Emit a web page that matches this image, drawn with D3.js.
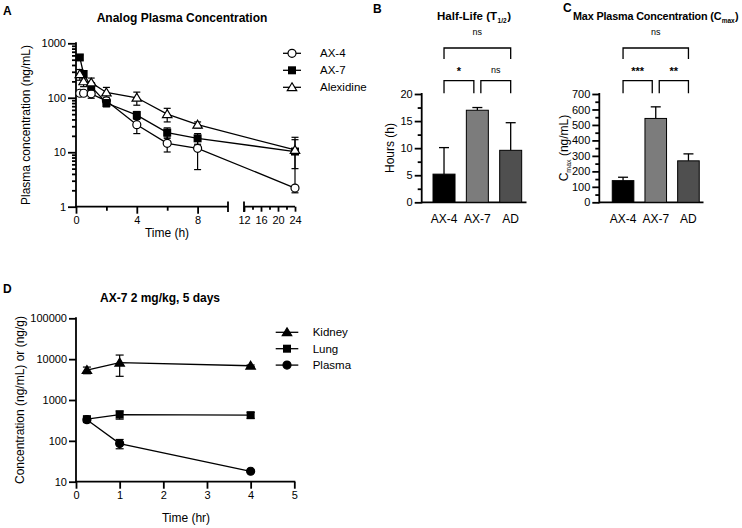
<!DOCTYPE html>
<html><head><meta charset="utf-8">
<script src="https://cdn.jsdelivr.net/npm/d3@7"></script>
<style>
body{margin:0;background:#fff;}
text{font-family:"Liberation Sans",Arial,sans-serif;fill:#000;}
</style></head>
<body><svg id="c" width="742" height="528"></svg>
<script>
// ---------- DATA ----------
// Panel A
const timesA = [0.25, 0.5, 1, 2, 4, 6, 8, 24];
const ax4Mean = [121, 121, 118, 88, 32, 14.6, 11.8, 2.2];
const ax4Sd   = [8, 6, 20, 12, 10, 4.5, 7, 0];
const ax7Mean = [550, 273, 160, 80, 48, 23, 18, 10.3];
const ax7Sd   = [60, 40, 30, 12, 8, 5, 4, 8.5];
const alxMean = [270, 200, 190, 125, 100, 50, 32, 11];
const alxSd   = [60, 40, 40, 30, 27, 14, 4, 6];
const seriesA = ["AX-4", "AX-7", "Alexidine"];
const yTicksA = [1, 10, 100, 1000];
const xTicksA1 = [0, 4, 8];
const xTicksA2 = [12, 16, 20, 24];
// Panel B
const groups = ["AX-4", "AX-7", "AD"];
const halfLife = [5.2, 17.0, 9.6];
const halfLifeSd = [4.9, 0.5, 5.1];
const yTicksB = [0, 5, 10, 15, 20];
const sigB = ["*", "ns", "ns"];
// Panel C
const cmax = [140, 542, 268];
const cmaxSd = [22, 75, 45];
const yTicksC = [0, 100, 200, 300, 400, 500, 600, 700];
const sigC = ["***", "**", "ns"];
// Panel D
const timesD = [0.25, 1, 4];
const kidneyMean = [5400, 8200, 6900];
const kidneySd = [1000, 4400, 300];
const lungMean = [340, 440, 425];
const lungSd = [40, 100, 70];
const plasmaMean = [330, 86, 18];
const plasmaSd = [20, 22, 1];
const seriesD = ["Kidney", "Lung", "Plasma"];
const yTicksD = [10, 100, 1000, 10000, 100000];
const xTicksD = [0, 1, 2, 3, 4, 5];

// ---------- HELPERS ----------
const svg = d3.select("#c");
const AX_W = 1.8, LINE_W = 1.3;
function styleAxis(g){
  g.select(".domain").remove();
  g.selectAll(".tick line").attr("stroke","#000").attr("stroke-width",AX_W);
  g.selectAll(".tick text").attr("font-size","11px").attr("font-family","Liberation Sans, Arial, sans-serif");
}
function marker(g, type, x, y, filled){
  const s = 4;
  if(type==="circle") g.append("circle").attr("cx",x).attr("cy",y).attr("r",s)
     .attr("fill",filled?"#000":"#fff").attr("stroke","#000").attr("stroke-width",1.2);
  else if(type==="square") g.append("rect").attr("x",x-s).attr("y",y-s).attr("width",2*s).attr("height",2*s)
     .attr("fill","#000");
  else if(type==="triangle"){
    const h=4.5;
    g.append("path").attr("d",`M${x},${y-h}L${x+h*1.05},${y+h*0.75}L${x-h*1.05},${y+h*0.75}Z`)
     .attr("fill",filled?"#000":"#fff").attr("stroke","#000").attr("stroke-width",1.2);
  }
}
function errBar(g, x, yTop, yBot, cap){
  g.append("line").attr("x1",x).attr("x2",x).attr("y1",yTop).attr("y2",yBot).attr("stroke","#000").attr("stroke-width",1.2);
  g.append("line").attr("x1",x-cap).attr("x2",x+cap).attr("y1",yTop).attr("y2",yTop).attr("stroke","#000").attr("stroke-width",1.2);
  g.append("line").attr("x1",x-cap).attr("x2",x+cap).attr("y1",yBot).attr("y2",yBot).attr("stroke","#000").attr("stroke-width",1.2);
}
function minorLog(lo, hi){
  const out=[];
  for(let d=lo; d<hi; d*=10) for(let k=2;k<=9;k++) out.push(d*k);
  return out;
}
function panelLetter(x,y,t){
  svg.append("text").attr("x",x).attr("y",y).attr("font-size","12px").attr("font-weight","bold").text(t);
}

// ---------- PANEL A ----------
(function(){
  const g = svg.append("g");
  const y = d3.scaleLog().domain([1,1000]).range([206.7,43.3]);
  const x1 = d3.scaleLinear().domain([0,10]).range([76,228]);
  const x2 = d3.scaleLinear().domain([12,24]).range([244,295]);
  const xp = t => t<=10 ? x1(t) : x2(t);
  const ya = g.append("g").attr("transform","translate(76,0)")
    .call(d3.axisLeft(y).tickValues(yTicksA).tickFormat(d3.format("d")).tickSize(8).tickPadding(2));
  styleAxis(ya);
  const ym = g.append("g").attr("transform","translate(76,0)")
    .call(d3.axisLeft(y).tickValues(minorLog(1,1000)).tickFormat("").tickSize(4));
  styleAxis(ym);
  g.append("line").attr("x1",76).attr("x2",76).attr("y1",y(1000)-1).attr("y2",y(1)+1).attr("stroke","#000").attr("stroke-width",AX_W);
  const xa = g.append("g").attr("transform","translate(0,206.7)")
    .call(d3.axisBottom(x1).tickValues(xTicksA1).tickSize(7).tickPadding(3));
  styleAxis(xa);
  const xm = g.append("g").attr("transform","translate(0,206.7)")
    .call(d3.axisBottom(x1).tickValues([2,6]).tickFormat("").tickSize(4));
  styleAxis(xm);
  g.append("line").attr("x1",75).attr("x2",x1(10)).attr("y1",206.7).attr("y2",206.7).attr("stroke","#000").attr("stroke-width",AX_W);
  g.append("line").attr("x1",x1(10)).attr("x2",x1(10)).attr("y1",201.5).attr("y2",212).attr("stroke","#000").attr("stroke-width",AX_W);
  const xb = g.append("g").attr("transform","translate(0,206.7)")
    .call(d3.axisBottom(x2).tickValues(xTicksA2).tickSize(5).tickPadding(5));
  styleAxis(xb);
  const xbm = g.append("g").attr("transform","translate(0,206.7)")
    .call(d3.axisBottom(x2).tickValues([14,18,22]).tickFormat("").tickSize(3));
  styleAxis(xbm);
  g.append("line").attr("x1",x2(12)).attr("x2",x2(24)).attr("y1",206.7).attr("y2",206.7).attr("stroke","#000").attr("stroke-width",AX_W);
  g.append("line").attr("x1",x2(12)).attr("x2",x2(12)).attr("y1",201.5).attr("y2",212).attr("stroke","#000").attr("stroke-width",AX_W);

  const sets = [
    {m:ax4Mean, s:ax4Sd, t:"circle", f:false},
    {m:ax7Mean, s:ax7Sd, t:"square", f:true},
    {m:alxMean, s:alxSd, t:"triangle", f:false}
  ];
  const line = d3.line().x((d,i)=>xp(timesA[i])).y(d=>y(d));
  sets.forEach(S=>{
    g.append("path").datum(S.m).attr("d",line).attr("fill","none").attr("stroke","#000").attr("stroke-width",LINE_W);
  });
  sets.forEach(S=>{
    S.m.forEach((v,i)=>{
      if(S.s[i]>0) errBar(g, xp(timesA[i]), y(v+S.s[i]), y(Math.max(v-S.s[i],1.05)), 3.5);
    });
  });
  sets.forEach(S=>{
    S.m.forEach((v,i)=> marker(g, S.t, xp(timesA[i]), y(v), S.f));
  });
  g.append("text").attr("x",182).attr("y",22).attr("text-anchor","middle").attr("font-size","12px").attr("font-weight","bold").text("Analog Plasma Concentration");
  g.append("text").attr("transform","translate(30,125) rotate(-90)").attr("text-anchor","middle").attr("font-size","12px").text("Plasma concentration (ng/mL)");
  g.append("text").attr("x",167).attr("y",237).attr("text-anchor","middle").attr("font-size","12px").text("Time (h)");
  seriesA.forEach((n,i)=>{
    const ly = 53.3 + i*17;
    g.append("line").attr("x1",283).attr("x2",301).attr("y1",ly).attr("y2",ly).attr("stroke","#000").attr("stroke-width",LINE_W);
    marker(g, sets[i].t, 292, ly, sets[i].f);
    g.append("text").attr("x",320).attr("y",ly+4).attr("font-size","11.5px").text(n);
  });
  panelLetter(3,15,"A");
})();

// ---------- BAR PANEL ----------
function barPanel(opts){
  const g = svg.append("g");
  const y = d3.scaleLinear().domain([0,opts.ymax]).range([202.3,94]);
  const x = d3.scaleBand().domain(groups).range(opts.xr).paddingInner(0.34).paddingOuter(0.17);
  const ya = g.append("g").attr("transform",`translate(${opts.ax},0)`)
    .call(d3.axisLeft(y).tickValues(opts.ticks).tickSize(7).tickPadding(2));
  styleAxis(ya);
  const minor = opts.ticks.slice(0,-1).map((t,i)=>(t+opts.ticks[i+1])/2);
  const ym = g.append("g").attr("transform",`translate(${opts.ax},0)`)
    .call(d3.axisLeft(y).tickValues(minor).tickFormat("").tickSize(4));
  styleAxis(ym);
  g.append("line").attr("x1",opts.ax).attr("x2",opts.ax).attr("y1",y(opts.ymax)-1).attr("y2",y(0)+1).attr("stroke","#000").attr("stroke-width",AX_W);
  g.append("line").attr("x1",opts.ax).attr("x2",opts.axEnd).attr("y1",y(0)).attr("y2",y(0)).attr("stroke","#000").attr("stroke-width",AX_W);
  const colors = ["#000000","#7c7c7c","#4f4f4f"];
  opts.vals.forEach((v,i)=>{
    const cx = x(groups[i]) + x.bandwidth()/2;
    g.append("line").attr("x1",cx).attr("x2",cx).attr("y1",y(v)).attr("y2",y(v+opts.sd[i])).attr("stroke","#000").attr("stroke-width",1.3);
    g.append("line").attr("x1",cx-5).attr("x2",cx+5).attr("y1",y(v+opts.sd[i])).attr("y2",y(v+opts.sd[i])).attr("stroke","#000").attr("stroke-width",1.3);
    g.append("rect").attr("x",x(groups[i])).attr("y",y(v)).attr("width",x.bandwidth()).attr("height",y(0)-y(v))
      .attr("fill",colors[i]).attr("stroke","#000").attr("stroke-width",1);
    g.append("text").attr("x",cx).attr("y",223).attr("text-anchor","middle").attr("font-size","12px").text(groups[i]);
  });
  const c = i => x(groups[i]) + x.bandwidth()/2;
  const br = (xa,xb,top,bot,label,ly)=>{
    g.append("path").attr("d",`M${xa},${bot}V${top}H${xb}V${bot}`).attr("fill","none").attr("stroke","#000").attr("stroke-width",1.3);
    g.append("text").attr("x",(xa+xb)/2).attr("y",ly).attr("text-anchor","middle").attr("font-size", label==="ns"?"9px":"11px").attr("font-weight",label==="ns"?"normal":"bold").text(label);
  };
  const lab = l => l==="ns" ? 73 : 75;
  br(c(0), c(1)-3.5, 80.7, 93.3, opts.sig[0], lab(opts.sig[0]));
  br(c(1)+3.5, c(2), 80.7, 93.3, opts.sig[1], lab(opts.sig[1]));
  br(c(0), c(2), 48, 59, opts.sig[2], 35);
  const t = g.append("text").attr("x",opts.tx).attr("y",20).attr("text-anchor",opts.tAnchor||"middle")
    .attr("font-size",opts.tSize||"11.5px").attr("font-weight","bold");
  if(opts.tSpacing) t.attr("letter-spacing",opts.tSpacing);
  t.append("tspan").text(opts.title[0]);
  t.append("tspan").attr("font-size","6.5px").attr("dy",3).attr("dx",0.5).text(opts.title[1]);
  t.append("tspan").attr("dy",-3).attr("dx",0.5).text(opts.title[2]);
  const yl = g.append("text").attr("transform",`translate(${opts.ylx},148) rotate(-90)`).attr("text-anchor","middle").attr("font-size","12px");
  yl.append("tspan").text(opts.ylab[0]);
  if(opts.ylab.length>1){
    yl.append("tspan").attr("font-size","7px").attr("dy",3).text(opts.ylab[1]);
    yl.append("tspan").attr("dy",-3).text(opts.ylab[2]);
  }
}
barPanel({ymax:20, ticks:yTicksB, xr:[427.35,527.35], ax:421.7, axEnd:526.5, vals:halfLife, sd:halfLifeSd,
  sig:sigB, title:["Half-Life (T","1/2",")"], tx:474, ylab:["Hours (h)"], ylx:394});
barPanel({ymax:700, ticks:yTicksC, xr:[606.7,704.8], ax:599.3, axEnd:703.5, vals:cmax, sd:cmaxSd,
  sig:sigC, title:["Max Plasma Concentration (C","max",")"], tx:573, tAnchor:"start", tSize:"10.8px", tSpacing:"-0.15px",
  ylab:["C","max"," (ng/mL)"], ylx:568});
panelLetter(373,13,"B");
panelLetter(563,12,"C");

// ---------- PANEL D ----------
(function(){
  const g = svg.append("g");
  const y = d3.scaleLog().domain([10,100000]).range([481.7,318.3]);
  const x = d3.scaleLinear().domain([0,5]).range([76,294.3]);
  const ya = g.append("g").attr("transform","translate(76,0)")
    .call(d3.axisLeft(y).tickValues(yTicksD).tickFormat(d3.format("d")).tickSize(7).tickPadding(2));
  styleAxis(ya);
  g.append("line").attr("x1",76).attr("x2",76).attr("y1",y(100000)-1).attr("y2",y(10)+1).attr("stroke","#000").attr("stroke-width",AX_W);
  const xa = g.append("g").attr("transform","translate(0,481.7)")
    .call(d3.axisBottom(x).tickValues(xTicksD).tickFormat(d3.format("d")).tickSize(7).tickPadding(3));
  styleAxis(xa);
  g.append("line").attr("x1",75).attr("x2",x(5)+1).attr("y1",481.7).attr("y2",481.7).attr("stroke","#000").attr("stroke-width",AX_W);
  const sets = [
    {m:kidneyMean, s:kidneySd, t:"triangle"},
    {m:lungMean, s:lungSd, t:"square"},
    {m:plasmaMean, s:plasmaSd, t:"circle"}
  ];
  const line = d3.line().x((d,i)=>x(timesD[i])).y(d=>y(d));
  sets.forEach(S=> g.append("path").datum(S.m).attr("d",line).attr("fill","none").attr("stroke","#000").attr("stroke-width",LINE_W));
  sets.forEach(S=> S.m.forEach((v,i)=>{ if(S.s[i]>2) errBar(g, x(timesD[i]), y(v+S.s[i]), y(v-S.s[i]), 4); }));
  [2,0,1].forEach(k=>{ const S=sets[k]; S.m.forEach((v,i)=> marker(g, S.t, x(timesD[i]), y(v), true)); });
  g.append("text").attr("x",160).attr("y",302).attr("text-anchor","middle").attr("font-size","12px").attr("font-weight","bold").text("AX-7 2 mg/kg, 5 days");
  g.append("text").attr("transform","translate(24,400) rotate(-90)").attr("text-anchor","middle").attr("font-size","12px").text("Concentration (ng/mL) or (ng/g)");
  g.append("text").attr("x",186).attr("y",522).attr("text-anchor","middle").attr("font-size","12px").text("Time (hr)");
  seriesD.forEach((n,i)=>{
    const ly = 332.3 + i*16.4;
    g.append("line").attr("x1",275.7).attr("x2",298.3).attr("y1",ly).attr("y2",ly).attr("stroke","#000").attr("stroke-width",LINE_W);
    marker(g, sets[i].t, 287, ly, true);
    g.append("text").attr("x",312.7).attr("y",ly+4).attr("font-size","11.5px").text(n);
  });
  panelLetter(3,293,"D");
})();
</script></body></html>
